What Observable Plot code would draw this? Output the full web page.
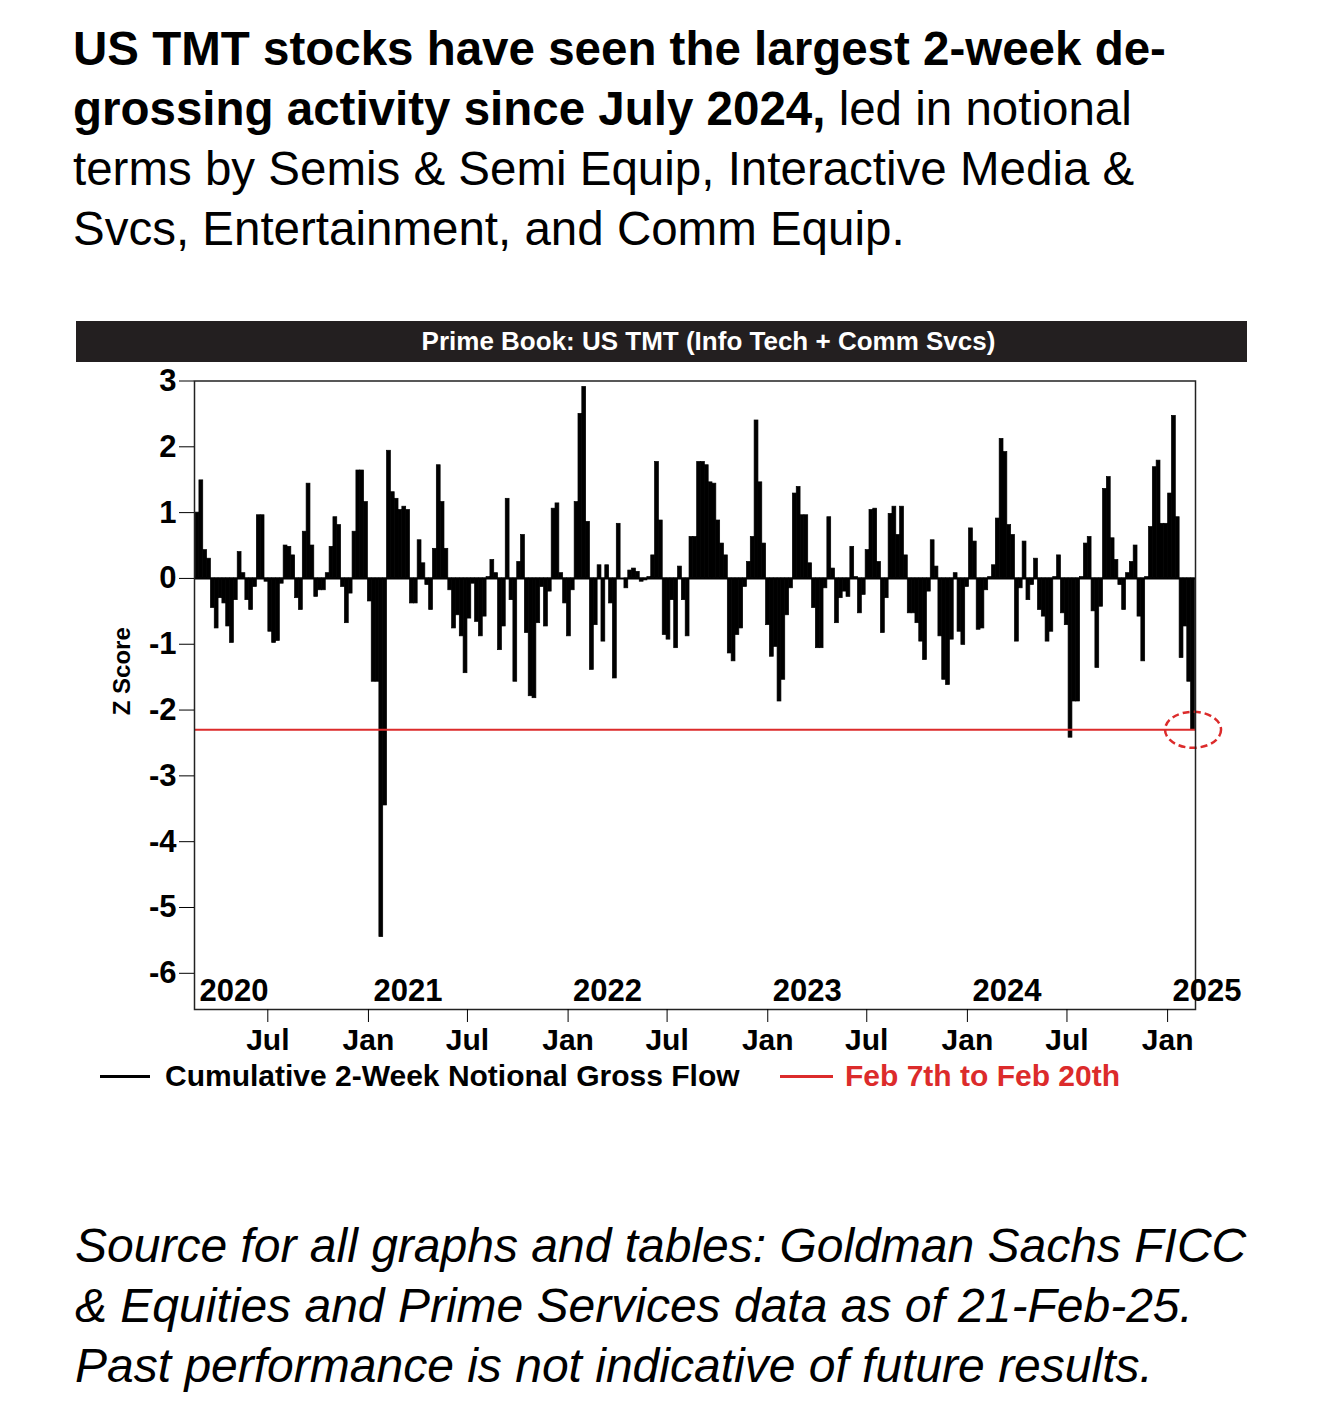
<!DOCTYPE html>
<html>
<head>
<meta charset="utf-8">
<script src="https://cdn.jsdelivr.net/npm/d3@7"></script>
<script src="https://cdn.jsdelivr.net/npm/@observablehq/plot@0.6"></script>
<style>
  html, body { margin: 0; padding: 0; background: #fff; }
  body { width: 1317px; height: 1422px; position: relative; overflow: hidden;
         font-family: "Liberation Sans", Arial, Helvetica, sans-serif; color: #000; }
  #headline { position: absolute; left: 73px; top: 19px; font-size: 47.5px; line-height: 60px; white-space: nowrap; }
  #bar { position: absolute; left: 76px; top: 321px; width: 1077px; padding-left: 94px; height: 41px;
         background: #231f20; color: #fff; font-weight: bold; font-size: 26px; line-height: 41px; text-align: center; white-space: nowrap; }
  #chart { position: absolute; left: 0; top: 362px; }
  .lg { position: absolute; font-weight: bold; font-size: 30px; line-height: 30px; white-space: nowrap; }
  .sw { position: absolute; height: 3px; }
  #caption { position: absolute; left: 75px; top: 1216px; font-size: 48px; line-height: 60px; font-style: italic; white-space: nowrap; }
</style>
</head>
<body>
<div id="headline"><b>US TMT stocks have seen the largest 2-week de-</b><br><b>grossing activity since July 2024,</b> led in notional<br>terms by Semis &amp; Semi Equip, Interactive Media &amp;<br>Svcs, Entertainment, and Comm Equip.</div>
<div id="bar"></div>
<div id="chart"></div>
<div class="sw" style="left:100px; top:1075px; width:50px; background:#000;"></div>
<div class="lg" id="lg1" style="left:165px; top:1061px;"></div>
<div class="sw" style="left:780px; top:1075px; width:53px; background:#dc2b2b;"></div>
<div class="lg" id="lg2" style="left:845px; top:1061px; color:#dc2b2b;"></div>
<div id="caption">Source for all graphs and tables: Goldman Sachs FICC<br>&amp; Equities and Prime Services data as of 21-Feb-25.<br>Past performance is not indicative of future results.</div>
<script>
// ---- data ----
const chartTitle = "Prime Book: US TMT (Info Tech + Comm Svcs)";
const seriesName = "Cumulative 2-Week Notional Gross Flow";
const highlightName = "Feb 7th to Feb 20th";
const yLabel = "Z Score";
const firstWeek = "2020-02-20";          // start of the first weekly bar
const zScores = [
  1.0, 1.49, 0.43, 0.30, -0.45, -0.76, -0.3, -0.38, -0.73, -0.98,
  -0.33, 0.40, 0.08, -0.33, -0.48, -0.13, 0.96, 0.96, -0.05, -0.81,
  -0.98, -0.95, -0.08, 0.5, 0.48, 0.35, -0.3, -0.48, 0.71, 1.44,
  0.5, -0.28, -0.18, -0.18, 0.08, 0.48, 0.93, 0.81, -0.13, -0.68,
  -0.23, 0.71, 1.64, 1.64,
  1.16, -0.35, -1.57, -1.57, -5.45, -3.45, 1.94, 1.31, 1.21, 1.04,
  1.09, 1.04, -0.38, -0.38, 0.58, 0.23, -0.1, -0.48, 0.45, 1.72,
  1.16, 0.45, -0.18, -0.76, -0.56, -0.88, -1.44, -0.61, -0.08, -0.66,
  -0.88, -0.58, 0.02, 0.28, 0.08, -1.09, -0.73, 1.21, -0.33, -1.57,
  0.25, 0.66, -0.83, -1.79,
  -1.82, -0.68, -0.13, -0.73, -0.2, 1.06, 1.14, 0.08, -0.38, -0.88,
  -0.18, 1.16, 2.5, 2.91, 0.86, -1.39, -0.71, 0.2, -0.96, 0.2,
  -0.38, -1.52, 0.83, 0.0, -0.15, 0.12, 0.15, 0.1, -0.05, -0.03,
  0.02, 0.35, 1.77, 0.88, -0.86, -0.93, -0.33, -1.06, 0.18, -0.33,
  -0.88, 0.63, 0.63, 1.77,
  1.77, 1.72, 1.46, 1.44, 0.88, 0.53, 0.35, -1.14, -1.26, -0.86,
  -0.76, -0.13, 0.25, 0.63, 2.4, 1.46, 0.53, -0.71, -1.19, -1.04,
  -1.87, -1.54, -0.56, -0.15, 1.29, 1.39, 0.96, 0.96, 0.23, -0.45,
  -1.06, -1.06, -0.15, 0.93, 0.15, -0.68, -0.3, -0.2, -0.28, 0.48,
  0.02, -0.53, -0.25, 0.43, 1.04,
  1.06, 0.25, -0.83, -0.3, 0.98, 1.09, 0.66, 1.09, 0.35, -0.53,
  -0.53, -0.68, -0.96, -1.24, -0.2, 0.58, 0.18, -0.88, -1.54, -1.62,
  -0.93, 0.08, -0.81, -1.01, -0.13, 0.76, 0.56, -0.78, -0.76, -0.18,
  0.02, 0.2, 0.91, 2.12, 1.92, 0.81, 0.66, -0.96, -0.15, 0.56,
  -0.33, -0.1, 0.3, -0.48,
  -0.58, -0.96, -0.81, 0.02, 0.35, -0.53, -0.71, -2.42, -1.87, -1.87,
  0.02, 0.53, 0.63, -0.5, -1.36, -0.43, 1.36, 1.54, 0.61, 0.28,
  -0.1, -0.48, 0.08, 0.25, 0.5, -0.58, -1.26, 0.02, 0.78, 1.69,
  1.79, 0.83, 0.83, 1.29, 2.47, 0.93, -1.21, -0.73, -1.57, -2.3
];
const latestLevel = -2.3;               // red reference line (Feb 7th to Feb 20th)
const yTicks = [-6, -5, -4, -3, -2, -1, 0, 1, 2, 3];
const xTickDates = ["2020-07-01","2021-01-01","2021-07-01","2022-01-01","2022-07-01",
                    "2023-01-01","2023-07-01","2024-01-01","2024-07-01","2025-01-01"];
const xTickLabels = ["Jul","Jan","Jul","Jan","Jul","Jan","Jul","Jan","Jul","Jan"];
const yearLabels = ["2020","2021","2022","2023","2024","2025"];
const yearDates = ["2020-02-18","2021-01-01","2022-01-01","2023-01-01","2024-01-01","2025-01-01"];

// ---- build ----
document.getElementById("bar").textContent = chartTitle;
document.getElementById("lg1").textContent = seriesName;
document.getElementById("lg2").textContent = highlightName;

const start = new Date(firstWeek);
const rows = zScores.map((v, i) => ({
  start: d3.utcDay.offset(start, 7 * i),
  end: d3.utcDay.offset(start, 7 * i + 7),
  value: v
}));
const last = rows[rows.length - 1];
const marker = [{date: new Date((+last.start + +last.end) / 2), value: latestLevel}];
const tickRows = xTickDates.map((d, i) => ({date: new Date(d), label: xTickLabels[i]}));
const yearRows = yearLabels.map((t, i) => ({date: new Date(yearDates[i]), label: t}));

const ellipse = {
  draw(ctx) {
    const rx = 28, ry = 18, k = 0.5523;
    ctx.moveTo(rx, 0);
    ctx.bezierCurveTo(rx, ry * k, rx * k, ry, 0, ry);
    ctx.bezierCurveTo(-rx * k, ry, -rx, ry * k, -rx, 0);
    ctx.bezierCurveTo(-rx, -ry * k, -rx * k, -ry, 0, -ry);
    ctx.bezierCurveTo(rx * k, -ry, rx, -ry * k, rx, 0);
    ctx.closePath();
  }
};

const red = "#dc2b2b";
const chart = Plot.plot({
  width: 1317,
  height: 692,
  marginTop: 18.5,
  marginBottom: 45,
  marginLeft: 194,
  marginRight: 122,
  style: {fontFamily: '"Liberation Sans", Arial, Helvetica, sans-serif', fontSize: "30px", fontWeight: "bold", color: "#000", background: "transparent", overflow: "visible"},
  x: {type: "utc", domain: [new Date("2020-02-18"), new Date("2025-02-21")]},
  y: {domain: [-6.55, 3]},
  marks: [
    Plot.rectY(rows, {x1: "start", x2: "end", y: "value", fill: "#000", stroke: "#000", strokeWidth: 0.7}),
    Plot.ruleY([0], {stroke: "#000", strokeWidth: 2}),
    Plot.ruleY([latestLevel], {stroke: red, strokeWidth: 2}),
    Plot.dot(marker, {x: "date", y: "value", symbol: ellipse, stroke: red, strokeWidth: 2.5, strokeDasharray: "7,4", fill: "none"}),
    Plot.frame({stroke: "#222", strokeWidth: 1.5}),
    Plot.axisY(yTicks, {tickSize: 15, tickPadding: 3, label: null, fontSize: 31, tickFormat: d => d < 0 ? "-" + Math.abs(d) : String(d)}),
    Plot.axisX(tickRows.map(d => d.date), {tickSize: 13, tickPadding: 6, label: null, fontSize: 30,
      tickFormat: (d, i) => tickRows.find(t => +t.date === +d).label}),
    Plot.text(yearRows, {x: "date", text: "label", frameAnchor: "bottom", textAnchor: "start", lineAnchor: "middle", dx: 5, dy: -18, fontSize: 31}),
    Plot.text([yLabel], {frameAnchor: "left", text: d => d, rotate: -90, dx: -72, dy: 20, fontSize: 24})
  ]
});
document.getElementById("chart").appendChild(chart);
</script>
</body>
</html>
